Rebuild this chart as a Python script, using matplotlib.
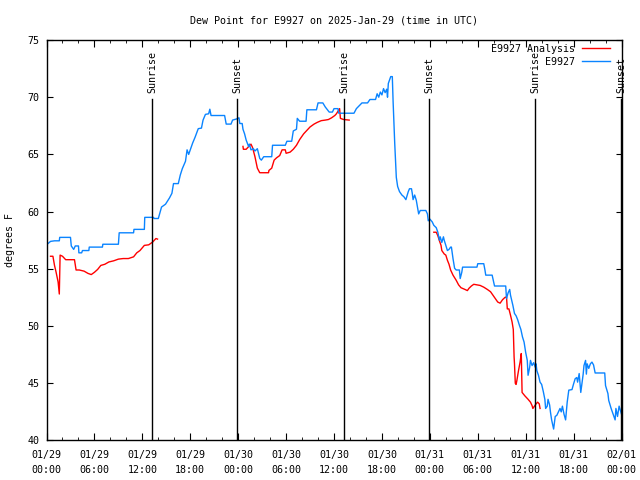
#!/usr/bin/env python3
"""Dew point chart for station E9927, 2025-01-29 .. 2025-02-01 (UTC)."""

import numpy as np
import matplotlib
matplotlib.use("Agg")
import matplotlib.pyplot as plt
import matplotlib.dates as mdates

plt.rcParams['font.family'] = ['DejaVu Sans Mono', 'DejaVu Sans']
FS = 7.2

# hours since 2025-01-29 00:00 UTC, dew point in degrees F
obs_hours = [
    0.0, 0.5, 1.0, 1.6, 1.65, 3.0, 3.1, 3.4, 3.6, 4.0, 4.05, 4.4, 4.5, 5.3, 5.35,
    7.0, 7.05, 9.0, 9.1, 10.9, 10.95, 12.25, 12.3, 13.4, 13.45, 14.0, 14.4, 14.9,
    15.4, 15.7, 15.9, 16.5, 16.75, 17.0, 17.4, 17.6, 17.8, 18.3, 18.6, 19.0, 19.4,
    19.6, 19.9, 20.3, 20.45, 20.6, 22.3, 22.5, 23.1, 23.3, 23.8,
    24.1, 24.2, 24.5, 24.6, 24.8, 25.0, 25.3, 25.4, 25.6, 25.9, 26.1, 26.4, 26.7,
    26.9, 27.2, 28.2, 28.3, 29.9, 30.1, 30.7, 30.9, 31.3, 31.4, 31.7, 32.5, 32.6,
    33.8, 34.0, 34.6, 34.9, 35.4, 35.8, 36.0, 36.5, 36.6, 38.5, 38.8, 39.5, 40.2,
    40.5, 41.2, 41.4, 41.6, 41.8, 42.0, 42.2, 42.4, 42.6, 42.7, 42.8, 43.1, 43.3,
    43.4, 43.6, 43.8, 43.96, 44.2, 44.5, 44.75, 45.0, 45.3, 45.45, 45.7, 45.8,
    45.9, 46.1, 46.3, 46.6, 46.8, 47.5, 47.7, 47.8, 48.0,
    48.3, 48.5, 48.8, 49.0, 49.2, 49.3, 49.5, 49.7, 49.8, 50.0, 50.2, 50.4, 50.6,
    50.7, 50.9, 51.1, 51.3, 51.7, 51.8, 52.0, 52.1, 53.9, 54.0, 54.75, 54.9, 55.0,
    55.8, 56.1, 57.5, 57.6, 57.8, 58.0, 58.1, 58.2, 58.4, 58.6, 58.8, 59.0, 59.2,
    59.4, 59.6, 59.8, 60.0, 60.2, 60.3, 60.5, 60.6, 60.8, 61.0, 61.2, 61.3, 61.4,
    61.6, 61.8, 62.0, 62.2, 62.4, 62.5, 62.7, 62.8, 63.0, 63.1, 63.25, 63.5, 63.7,
    63.9, 64.1, 64.3, 64.45, 64.6, 64.8, 65.0, 65.2, 65.4, 65.8, 66.0, 66.2, 66.4,
    66.5, 66.7, 66.9, 67.2, 67.3, 67.5, 67.6, 67.7, 67.9, 68.1, 68.3, 68.5, 68.7,
    69.9, 70.0, 70.3, 70.4, 70.7, 71.0, 71.2, 71.3, 71.5, 71.7, 72.0,
]
obs_dewpt = [
    57.1, 57.4, 57.45, 57.45, 57.75, 57.75, 57.0, 56.7, 57.0, 57.0, 56.4, 56.4,
    56.6, 56.6, 56.9, 56.9, 57.15, 57.15, 58.15, 58.15, 58.45, 58.45, 59.5, 59.5,
    59.4, 59.4, 60.4, 60.65, 61.2, 61.6, 62.45, 62.45, 63.2, 63.75, 64.4, 65.4,
    65.0, 66.0, 66.5, 67.25, 67.3, 68.0, 68.5, 68.55, 68.95, 68.4, 68.4, 67.65,
    67.65, 68.0, 68.1,
    68.2, 67.7, 67.7, 67.2, 66.8, 66.25, 65.7, 65.9, 65.4, 65.5, 65.3, 65.5,
    64.65, 64.5, 64.8, 64.8, 65.8, 65.8, 66.15, 66.15, 67.05, 67.2, 68.15, 67.9,
    67.9, 68.9, 68.9, 69.5, 69.5, 69.15, 68.7, 68.7, 69.0, 69.0, 68.6, 68.6, 69.0,
    69.5, 69.5, 69.8, 69.8, 70.3, 70.0, 70.45, 70.2, 70.75, 70.4, 70.7, 70.0, 71.2,
    71.8, 71.8, 69.6, 66.0, 63.0, 62.2, 61.75, 61.45, 61.3, 61.05, 61.75, 62.0,
    62.0, 61.6, 61.05, 61.45, 61.0, 59.8, 60.1, 60.1, 59.8, 59.2, 59.35,
    59.1, 58.8, 58.6, 58.2, 57.5, 57.8, 57.3, 57.8, 57.5, 57.05, 56.6, 56.7, 56.9,
    56.9, 55.9, 55.05, 54.9, 54.9, 54.15, 54.7, 55.15, 55.15, 55.45, 55.45, 54.9,
    54.45, 54.45, 53.5, 53.5, 52.4, 52.9, 53.2, 52.7, 52.4, 51.8, 51.1, 50.9, 50.55,
    50.1, 49.7, 49.05, 48.6, 47.7, 47.0, 45.7, 46.4, 47.0, 46.55, 46.8, 46.4, 46.7,
    46.1, 45.7, 45.1, 44.9, 44.3, 43.6, 42.8, 43.0, 43.6, 43.1, 42.5, 41.8, 41.0,
    42.1, 42.2, 42.5, 42.8, 42.5, 43.0, 42.3, 41.8, 43.35, 44.4, 44.45, 44.95, 45.4,
    45.5, 45.1, 45.85, 44.2, 45.8, 46.55, 47.0, 45.8, 46.7, 46.3, 46.7, 46.85, 46.6,
    45.9, 45.9, 44.8, 44.1, 43.5, 42.8, 42.2, 41.8, 42.8, 42.1, 43.0, 42.3,
]

# analysis series, NaN marks the gaps between runs
ana_hours = [
    0.5, 0.8, 1.0, 1.2, 1.45, 1.6, 1.7, 2.0, 2.4, 3.5, 3.7, 4.1, 4.7, 5.2, 5.6,
    6.0, 6.4, 6.8, 7.3, 7.8, 8.4, 9.0, 9.6, 10.25, 10.9, 11.3, 11.7, 12.25, 12.8,
    13.3, 13.7, 13.9, 14.0,
    24.6, 24.65, 25.0, 25.6, 25.8, 26.1, 26.4, 26.7, 27.8, 27.85, 28.2, 28.5,
    28.8, 29.2, 29.5, 29.9, 30.0, 30.5, 30.9, 31.3, 31.7, 32.2, 32.6, 33.0, 33.5,
    33.9, 34.4, 34.9, 35.3, 35.7, 36.1, 36.3, 36.7, 36.8, 37.2, 37.9, 38.0,
    48.5, 48.8, 49.0, 49.2, 49.4, 49.5, 49.8, 50.0, 50.2, 50.4, 50.6, 50.9, 51.3,
    51.6, 51.9, 52.4, 52.7, 52.9, 53.2, 53.5, 53.9, 54.3, 54.75, 55.2, 55.6, 55.9,
    56.2, 56.5, 56.8, 57.1, 57.4, 57.6, 57.7, 57.9, 58.1, 58.3, 58.45, 58.55, 58.6,
    58.7, 58.8, 58.9, 59.1, 59.3, 59.45, 59.55, 59.9, 60.3, 60.6, 60.8, 60.9, 61.1,
    61.3, 61.5, 61.7, 61.8,
]
ana_dewpt = [
    56.1, 56.1, 55.3, 54.7, 53.85, 52.8, 56.2, 56.1, 55.8, 55.8, 54.9, 54.9, 54.8,
    54.6, 54.5, 54.7, 54.95, 55.3, 55.4, 55.6, 55.7, 55.85, 55.9, 55.9, 56.05,
    56.4, 56.6, 57.05, 57.1, 57.35, 57.65, 57.6, np.nan,
    65.7, 65.45, 65.45, 65.9, 65.6, 64.8, 63.8, 63.4, 63.4, 63.6, 63.8, 64.5,
    64.7, 64.9, 65.4, 65.4, 65.1, 65.2, 65.45, 65.8, 66.3, 66.8, 67.1, 67.4, 67.65,
    67.8, 67.95, 68.0, 68.05, 68.2, 68.4, 68.55, 69.0, 68.15, 68.05, 68.0, np.nan,
    58.2, 58.2, 57.9, 57.45, 57.05, 56.6, 56.3, 56.2, 55.75, 55.4, 54.9, 54.45,
    54.0, 53.6, 53.35, 53.2, 53.1, 53.3, 53.5, 53.65, 53.6, 53.55, 53.4, 53.2,
    53.0, 52.7, 52.4, 52.1, 52.0, 52.3, 52.5, 52.55, 51.5, 51.5, 50.95, 50.35,
    49.7, 47.3, 46.7, 45.0, 44.9, 45.25, 46.1, 46.85, 47.6, 44.2, 43.9, 43.6,
    43.35, 43.05, 42.8, 43.0, 43.2, 43.35, 43.2, 42.8,
]

series_labels = ['E9927 Analysis', 'E9927']

sunrise_hours = [13.25, 37.3, 61.2]
sunset_hours = [23.85, 47.93, 71.95]

BASE = np.datetime64('2025-01-29T00:00')


def to_time(hours):
    minutes = np.round(np.asarray(hours, dtype=float) * 60).astype(int)
    return BASE + minutes.astype('timedelta64[m]')


assert len(obs_hours) == len(obs_dewpt)
assert len(ana_hours) == len(ana_dewpt)

fig = plt.figure(figsize=(6.4, 4.8), dpi=100)
ax = fig.add_axes([0.0727, 0.0823, 0.8984, 0.8344])

# right-justify legend labels (gnuplot style) - font is monospace so padding works
width = max(len(s) for s in series_labels)
ax.plot(to_time(ana_hours), ana_dewpt, color='#ff0000', lw=1.0,
        label=series_labels[0].rjust(width))
ax.plot(to_time(obs_hours), obs_dewpt, color='#0a84ff', lw=1.0,
        label=series_labels[1].rjust(width))

# sunrise / sunset markers
events = [(h, 'Sunrise') for h in sunrise_hours] + [(h, 'Sunset') for h in sunset_hours]
for h, name in events:
    t = to_time([h])[0]
    ax.axvline(t, ymin=0, ymax=0.853, color='black', lw=1.0)
    ax.text(t, 70.4, name, rotation=90, ha='center', va='bottom',
            fontsize=FS, clip_on=False)

ax.set_xlim(BASE, BASE + np.timedelta64(72, 'h'))
ax.set_ylim(40, 75)
ax.set_yticks(np.arange(40, 76, 5))
ax.xaxis.set_major_locator(mdates.HourLocator(byhour=[0, 6, 12, 18]))
ax.xaxis.set_minor_locator(mdates.HourLocator(byhour=range(0, 24, 2)))
ax.xaxis.set_major_formatter(mdates.DateFormatter('%m/%d\n%H:%M'))

ax.tick_params(which='both', direction='in', top=True, right=True,
               labelsize=FS, color='black')
ax.tick_params(axis='x', which='major', length=5, pad=7)
ax.tick_params(axis='x', which='minor', length=2.5)
ax.tick_params(axis='y', which='major', length=4, pad=5)
for lab in ax.get_xticklabels():
    lab.set_linespacing(1.6)

for s in ax.spines.values():
    s.set_linewidth(1.0)
    s.set_color('black')

ax.set_title('Dew Point for E9927 on 2025-Jan-29 (time in UTC)',
             fontsize=FS, pad=12)
ax.set_ylabel('degrees F', fontsize=FS, labelpad=9)

ax.legend(loc='upper right', bbox_to_anchor=(0.9835, 0.995), frameon=False,
          fontsize=FS, markerfirst=False, handlelength=2.8, handletextpad=0.7,
          labelspacing=0.3, borderaxespad=0.0, borderpad=0.2)

fig.savefig('out.png', dpi=100)
